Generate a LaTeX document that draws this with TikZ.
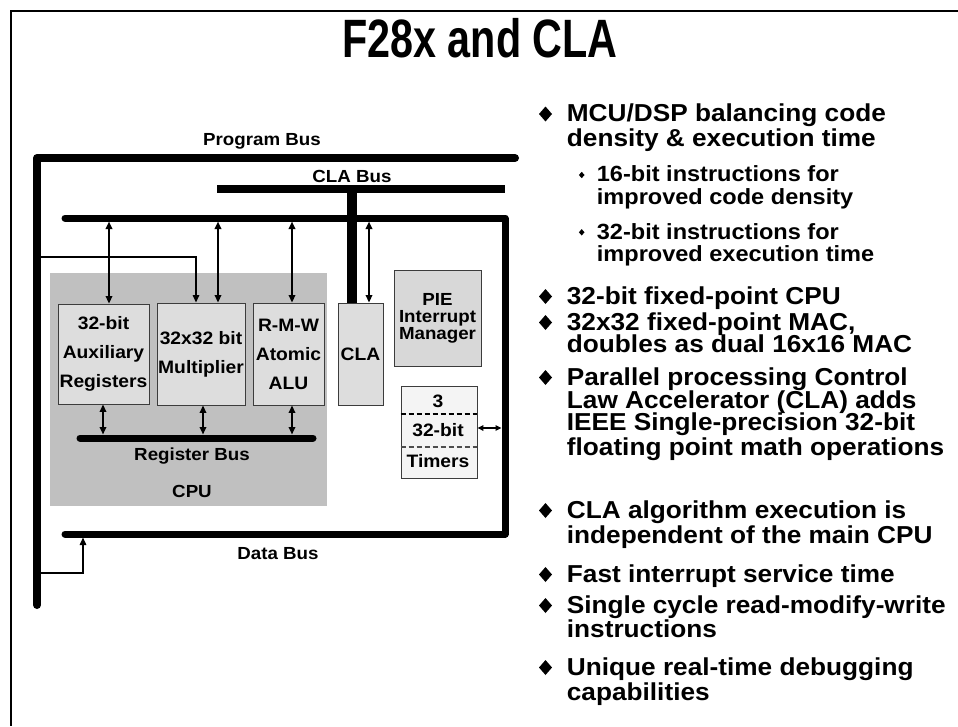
\documentclass[tikz,border=0pt]{standalone}
\usepackage{graphicx}
\usepackage{fontspec}
\setmainfont{Liberation Sans}[FakeStretch=1.07]
\newfontfamily\titlefont{Liberation Sans}
\usetikzlibrary{arrows.meta}
\definecolor{cpugray}{RGB}{192,192,192}
\definecolor{boxgray}{RGB}{221,221,221}
\definecolor{piegray}{RGB}{216,216,216}
\definecolor{timgray}{RGB}{244,244,244}
\definecolor{edgegray}{RGB}{60,60,60}
\newcommand\bigdia[1]{\fill[shift={(545.5,#1)}] (0,-7.5) -- (6.5,0) -- (0,7.5) -- (-6.5,0) -- cycle;}
\newcommand\smalldia[1]{\fill[shift={(581.7,#1)}] (0,-3.2) -- (2.8,0) -- (0,3.2) -- (-2.8,0) -- cycle;}
\begin{document}
\begin{tikzpicture}[x=1pt,y=-1pt,
  >={Triangle[length=7.5pt,width=6.5pt]},
  bus/.style={line width=7pt,line cap=round,line join=round},
  conn/.style={line width=1.4pt,->},
  link/.style={line width=2pt,<->},
  smalllink/.style={line width=1.6pt,{Triangle[length=6pt,width=5.5pt]}-{Triangle[length=6pt,width=5.5pt]}},
  unit/.style={draw=edgegray,line width=0.9pt,fill=boxgray,inner sep=0pt,align=center,
    font=\bfseries\fontsize{18}{29}\selectfont},
  lbl/.style={font=\bfseries\fontsize{17.5}{20}\selectfont,anchor=base,inner sep=0pt},
  bul/.style={font=\bfseries\fontsize{24.5}{26}\selectfont,anchor=base west,inner sep=0pt},
  subbul/.style={font=\bfseries\fontsize{22}{24}\selectfont,anchor=base west,inner sep=0pt}
]
\useasboundingbox (0,0) rectangle (958,726);
\fill[white] (0,0) rectangle (958,726);
% slide frame
\draw[line width=2.5pt] (958,11) -- (11,11) -- (11,726);
% title
\node[font=\titlefont\bfseries\fontsize{54}{58}\selectfont,anchor=base,inner sep=0pt] (title) at (480,57) {\scalebox{0.765}[1]{F28x and CLA}};

% CPU area
\node[fill=cpugray,inner sep=0pt,minimum width=277,minimum height=233,anchor=north west] (cpu) at (50,273) {};

% buses
\coordinate (pbR) at (515,158);
\coordinate (pbC) at (37,158);
\coordinate (pbB) at (37,605);
\draw[bus,line width=8pt] (pbR) -- (pbC) -- (pbB);
\coordinate (cbL) at (217,189);
\coordinate (cbR) at (505,189);
\draw[line width=8pt] (cbL) -- (cbR);
\coordinate (dbTL) at (65,218);
\coordinate (dbTR) at (505,218);
\coordinate (dbBR) at (505,534);
\coordinate (dbBL) at (65,534);
\draw[bus] (dbTL) -- (dbTR) -- (dbBR) -- (dbBL);
\coordinate (rbL) at (80,438);
\coordinate (rbR) at (313,438);
\draw[bus] (rbL) -- (rbR);

% units
\node[unit,minimum width=91,minimum height=100] (aux) at (103.5,354) {32-bit\\Auxiliary\\Registers};
\node[unit,minimum width=88,minimum height=102] (mult) at (201,354) {32x32 bit\\Multiplier};
\node[unit,minimum width=71,minimum height=102] (alu) at (288.5,354) {R-M-W\\Atomic\\ALU};
\node[unit,minimum width=45,minimum height=102] (cla) at (360.5,354) {CLA};
\node[unit,fill=piegray,minimum width=87,minimum height=96,font=\bfseries\fontsize{17.5}{17}\selectfont] (pie) at (437.5,318) {PIE\\Interrupt\\Manager};
\node[unit,fill=timgray,minimum width=76,minimum height=92] (tim) at (439,432) {};
\draw[dash pattern=on 5pt off 3pt,line width=1.5pt] (tim.west |- 0,414) -- (tim.east |- 0,414);
\draw[dash pattern=on 5pt off 3pt,line width=1.2pt,black!70] (tim.west |- 0,447) -- (tim.east |- 0,447);
\node[lbl,font=\bfseries\fontsize{18}{20}\selectfont] (t1) at (438,407) {3};
\node[lbl,font=\bfseries\fontsize{18}{20}\selectfont] (t2) at (438,436) {32-bit};
\node[lbl,font=\bfseries\fontsize{18}{20}\selectfont] (t3) at (438,467) {Timers};

% CLA bus to CLA
\draw[line width=10pt] (352,0 |- cbL) -- (352,0 |- cla.north);

% connections from data bus to units
\draw[link,shorten <=3.5pt] (109,0 |- dbTL) -- (109,0 |- aux.north);
\draw[link,shorten <=3.5pt] (218,0 |- dbTL) -- (218,0 |- mult.north);
\draw[link,shorten <=3.5pt] (292,0 |- dbTL) -- (292,0 |- alu.north);
\draw[link,shorten <=3.5pt] (369,0 |- dbTL) -- (369,0 |- cla.north);
% register bus connections
\draw[link,shorten >=3.5pt] (103,0 |- aux.south) -- (103,0 |- rbL);
\draw[link,shorten >=3.5pt] (203,0 |- mult.south) -- (203,0 |- rbL);
\draw[link,shorten >=3.5pt] (292,0 |- alu.south) -- (292,0 |- rbL);
% timers
\draw[smalllink,shorten >=3.5pt] (tim.east |- 0,428) -- (dbBR |- 0,428);
% thin lines from program bus
\draw[conn] (pbC |- 0,257) -- (196,257) -- (196,0 |- mult.north);
\draw[conn,shorten >=3.5pt] (pbC |- 0,573) -- (83,573) -- (83,0 |- dbBL);

% labels
\node[lbl] (pblabel) at (262,145) {Program Bus};
\node[lbl] (cblabel) at (352,182) {CLA Bus};
\node[lbl] (rblabel) at (192,460) {Register Bus};
\node[lbl] (cpulabel) at (192,497) {CPU};
\node[lbl] (dblabel) at (278,559) {Data Bus};

% bullets
\bigdia{114}
\node[bul] (b1a) at (566.7,121.7) {MCU/DSP balancing code};
\node[bul] (b1b) at (566.7,146) {density \& execution time};
\smalldia{175}
\node[subbul] (s1a) at (596.7,181.7) {16-bit instructions for};
\node[subbul] (s1b) at (596.7,204) {improved code density};
\smalldia{232.3}
\node[subbul] (s2a) at (596.7,239) {32-bit instructions for};
\node[subbul] (s2b) at (596.7,261) {improved execution time};
\bigdia{296.5}
\node[bul] (b2) at (566.7,304) {32-bit fixed-point CPU};
\bigdia{322.5}
\node[bul] (b3a) at (566.7,330) {32x32 fixed-point MAC,};
\node[bul] (b3b) at (566.7,352.7) {doubles as dual 16x16 MAC};
\bigdia{377.5}
\node[bul] (b4a) at (566.7,385) {Parallel processing Control};
\node[bul] (b4b) at (566.7,408) {Law Accelerator (CLA) adds};
\node[bul] (b4c) at (566.7,430.7) {IEEE Single-precision 32-bit};
\node[bul] (b4d) at (566.7,455) {floating point math operations};
\bigdia{510.5}
\node[bul] (b5a) at (566.7,518) {CLA algorithm execution is};
\node[bul] (b5b) at (566.7,543) {independent of the main CPU};
\bigdia{574.5}
\node[bul] (b6) at (566.7,582) {Fast interrupt service time};
\bigdia{605.5}
\node[bul] (b7a) at (566.7,613) {Single cycle read-modify-write};
\node[bul] (b7b) at (566.7,637) {instructions};
\bigdia{667.5}
\node[bul] (b8a) at (566.7,675) {Unique real-time debugging};
\node[bul] (b8b) at (566.7,700) {capabilities};
\end{tikzpicture}
\end{document}
